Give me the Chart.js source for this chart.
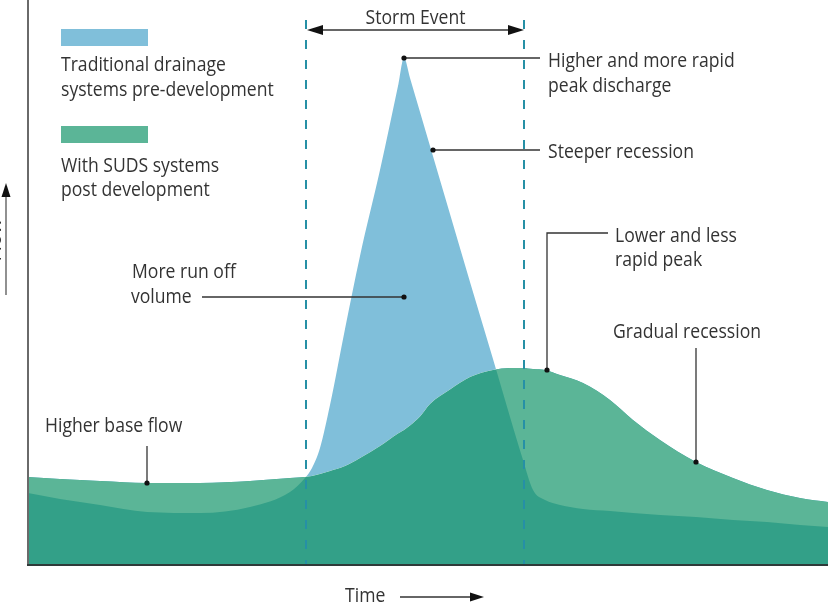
<!DOCTYPE html>
<html>
<head>
<meta charset="utf-8">
<script src="https://cdn.jsdelivr.net/npm/chart.js@4.4.0/dist/chart.umd.min.js"></script>
<style>
  html, body { margin: 0; padding: 0; background: #fff; }
  #wrap { width: 828px; height: 605px; }
</style>
</head>
<body>
<div id="wrap"><canvas id="hydrograph" width="828" height="605"></canvas></div>
<script>
// time (hours) and discharge
var times = [0, 1.6, 3.6, 5.95, 8.6, 11.1, 13.1, 13.85, 14.2, 14.6, 15.1, 15.85, 16.6, 17.6, 18.5, 18.8, 19.1, 19.6,
  20.1, 21.1, 22.1, 23.25, 24.1, 24.75, 25.25, 25.85, 26.6, 27.75, 29.1, 30.25, 31.6, 33.4, 35.25, 36.95, 38.6, 40];
var traditional = [14.4, 13.2, 12.0, 10.6, 10.4, 11.6, 14.6, 17.4, 19.4, 23.4, 32.0, 47.2, 61.8, 79.0, 95.8, 101.4, 97.4, 90.6,
  83.8, 70.2, 56.6, 41.2, 29.6, 21.0, 15.0, 13.0, 12.0, 11.2, 10.8, 10.4, 10.0, 9.6, 9.0, 8.6, 8.0, 7.6];
var suds = [17.6, 17.2, 16.8, 16.4, 16.4, 16.8, 17.4, 17.6, 17.8, 18.2, 18.8, 19.8, 21.4, 23.8, 26.3, 27.0, 27.9, 29.7,
  32.2, 35.1, 37.6, 39.0, 39.4, 39.4, 39.2, 39.0, 38.0, 36.4, 33.0, 29.0, 25.0, 20.6, 17.4, 15.0, 13.4, 12.6];
var stormStart = 13.9;
var stormEnd = 24.8;

var BLUE = "#80bfda";
var LIGHT_GREEN = "#5bb597";
var DARK_GREEN = "#33a088";
var DASH = "#2690a6";
var INK = "#333333";

function pts(ys) {
  return times.map(function (t, i) { return { x: t, y: ys[i] }; });
}

function arrowHead(ctx, x, y, dir, len, half) {
  // dir: 'left' | 'right' | 'up'
  ctx.beginPath();
  if (dir === "left") { ctx.moveTo(x, y); ctx.lineTo(x + len, y - half); ctx.lineTo(x + len, y + half); }
  if (dir === "right") { ctx.moveTo(x, y); ctx.lineTo(x - len, y - half); ctx.lineTo(x - len, y + half); }
  if (dir === "up") { ctx.moveTo(x, y); ctx.lineTo(x - half, y + len); ctx.lineTo(x + half, y + len); }
  ctx.closePath();
  ctx.fill();
}

var notesPlugin = {
  id: "notes",
  afterDraw: function (chart) {
    var ctx = chart.ctx;
    var xs = chart.scales.x, ys = chart.scales.y;
    var area = chart.chartArea;
    var X = function (v) { return xs.getPixelForValue(v); };
    var Y = function (v) { return ys.getPixelForValue(v); };

    ctx.save();
    ctx.font = "20px 'Open Sans'";
    var k = 148 / ctx.measureText("Gradual recession").width;
    function txt(s, x, y, align) {
      ctx.save();
      ctx.translate(x, y);
      ctx.scale(k, 1);
      ctx.textAlign = align || "left";
      ctx.textBaseline = "alphabetic";
      ctx.fillStyle = INK;
      ctx.fillText(s, 0, 0);
      ctx.restore();
    }
    function dot(x, y) {
      ctx.fillStyle = "#111";
      ctx.beginPath();
      ctx.arc(x, y, 2.6, 0, Math.PI * 2);
      ctx.fill();
    }
    function line(coords) {
      ctx.strokeStyle = INK;
      ctx.lineWidth = 1.3;
      ctx.beginPath();
      ctx.moveTo(coords[0], coords[1]);
      for (var i = 2; i < coords.length; i += 2) ctx.lineTo(coords[i], coords[i + 1]);
      ctx.stroke();
    }

    // storm event boundaries
    ctx.strokeStyle = DASH;
    ctx.lineWidth = 2;
    ctx.setLineDash([9, 11]);
    [stormStart, stormEnd].forEach(function (t) {
      var px = Math.round(X(t));
      ctx.beginPath();
      ctx.moveTo(px, 20);
      ctx.lineTo(px, area.bottom);
      ctx.stroke();
    });
    ctx.setLineDash([]);

    // axes
    ctx.strokeStyle = "#6a6a6a";
    ctx.lineWidth = 2;
    ctx.beginPath();
    ctx.moveTo(area.left, area.top);
    ctx.lineTo(area.left, area.bottom + 1);
    ctx.stroke();
    ctx.strokeStyle = "#2f3a39";
    ctx.beginPath();
    ctx.moveTo(area.left - 1, area.bottom);
    ctx.lineTo(area.right, area.bottom);
    ctx.stroke();

    // storm event arrow
    var s0 = X(stormStart) + 1, s1 = X(stormEnd);
    ctx.strokeStyle = "#333";
    ctx.lineWidth = 1.3;
    ctx.beginPath();
    ctx.moveTo(s0 + 8, 30);
    ctx.lineTo(s1 - 8, 30);
    ctx.stroke();
    ctx.fillStyle = "#111";
    arrowHead(ctx, s0, 30, "left", 16, 5);
    arrowHead(ctx, s1, 30, "right", 16, 5);
    txt("Storm Event", (s0 + s1) / 2, 24, "center");

    // legend
    ctx.fillStyle = BLUE;
    ctx.fillRect(61, 29, 87, 17);
    ctx.fillStyle = LIGHT_GREEN;
    ctx.fillRect(61, 126, 87, 17);
    txt("Traditional drainage", 61, 71);
    txt("systems pre-development", 61, 96);
    txt("With SUDS systems", 61, 172);
    txt("post development", 61, 196);

    // peak discharge
    var px = X(18.8), py = Y(101.4);
    line([px, py, 540, py]);
    dot(px, py);
    txt("Higher and more rapid", 548, 67);
    txt("peak discharge", 548, 92);

    // steeper recession
    px = X(20.25); py = Y(83);
    line([px, py, 540, py]);
    dot(px, py);
    txt("Steeper recession", 548, 158);

    // run off volume
    px = X(18.8); py = Y(53.6);
    line([202, py, px, py]);
    dot(px, py);
    txt("More run off", 132, 278);
    txt("volume", 131, 303);

    // lower peak
    px = X(25.95); py = Y(39);
    line([px, py, px, 233, 608, 233]);
    dot(px, py);
    txt("Lower and less", 615, 242);
    txt("rapid peak", 615, 266);

    // gradual recession
    px = X(33.4); py = Y(20.6);
    line([px, py, px, 348]);
    dot(px, py);
    txt("Gradual recession", 613, 338);

    // base flow
    px = X(5.95); py = Y(16.4);
    line([px, py, px, 446]);
    dot(px, py);
    txt("Higher base flow", 45, 432);

    // time axis label
    txt("Time", 345, 602);
    ctx.strokeStyle = "#333";
    ctx.lineWidth = 1.3;
    ctx.beginPath();
    ctx.moveTo(400, 597);
    ctx.lineTo(474, 597);
    ctx.stroke();
    ctx.fillStyle = "#111";
    arrowHead(ctx, 484, 597, "right", 14, 4.5);

    // flow axis label (mostly off the left edge)
    ctx.strokeStyle = "#555";
    ctx.lineWidth = 1.3;
    ctx.beginPath();
    ctx.moveTo(6, 295);
    ctx.lineTo(6, 195);
    ctx.stroke();
    ctx.fillStyle = "#111";
    arrowHead(ctx, 6, 183, "up", 14, 4.5);
    ctx.save();
    ctx.translate(0.5, 240);
    ctx.rotate(-Math.PI / 2);
    ctx.textAlign = "center";
    ctx.fillStyle = INK;
    ctx.fillText("Flow", 0, 0);
    ctx.restore();

    ctx.restore();
  }
};

var chart = new Chart(document.getElementById("hydrograph").getContext("2d"), {
  type: "line",
  data: {
    datasets: [
      {
        label: "Traditional drainage systems pre-development",
        data: pts(traditional),
        borderWidth: 0,
        pointRadius: 0,
        cubicInterpolationMode: "monotone",
        fill: { target: 1, above: BLUE, below: LIGHT_GREEN },
      },
      {
        label: "With SUDS systems post development",
        data: pts(suds),
        borderWidth: 0,
        pointRadius: 0,
        cubicInterpolationMode: "monotone",
        backgroundColor: DARK_GREEN,
        fill: "origin",
      },
    ],
  },
  options: {
    responsive: false,
    animation: false,
    devicePixelRatio: 1,
    layout: { padding: { left: 28, right: 0, top: 0, bottom: 40 } },
    scales: {
      x: { type: "linear", min: 0, max: 40, display: false },
      y: { min: 0, max: 113, display: false },
    },
    plugins: {
      legend: { display: false },
      tooltip: { enabled: false },
    },
  },
  plugins: [notesPlugin],
});
</script>
</body>
</html>
